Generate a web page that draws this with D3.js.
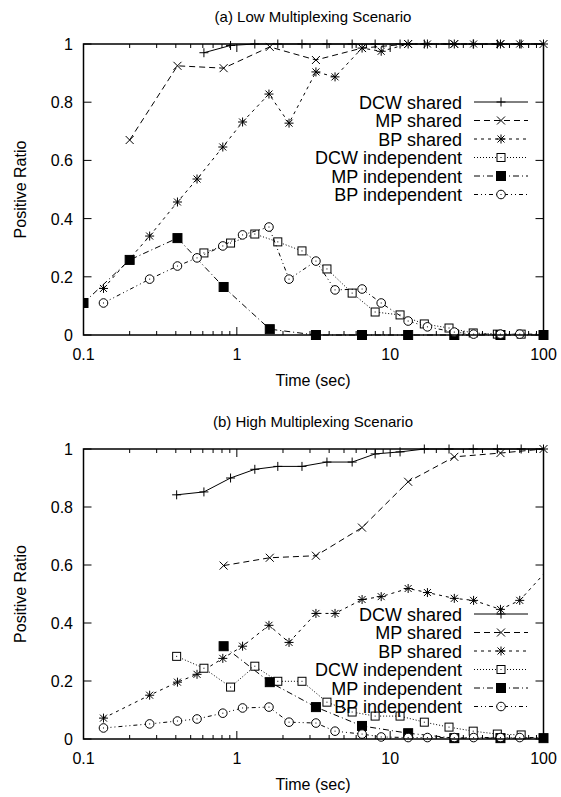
<!DOCTYPE html>
<html>
<head>
<meta charset="utf-8">
<script src="https://cdn.jsdelivr.net/npm/d3@7"></script>
<style>
  body { margin: 0; background: #fff; }
  text { font-family: "Liberation Sans", Arial, sans-serif; fill: #000; }
</style>
</head>
<body>
<script>
// sample times (sec) for each method
const TIME_DCW = [0.405, 0.61, 0.91, 1.31, 1.85, 2.66, 3.87, 5.65, 7.98, 11.6, 16.7, 24.2, 34.8, 50, 71.5, 100];
const TIME_MP = [0.1, 0.2, 0.41, 0.82, 1.64, 3.28, 6.55, 13.1, 26.2, 52.4, 100];
const TIME_BP = [0.135, 0.27, 0.41, 0.55, 0.81, 1.09, 1.62, 2.19, 3.28, 4.37, 6.56, 8.74, 13.1, 17.5, 26.2, 35, 52.4, 70, 105];

// (a) low multiplexing
const lowDcwShared = [null, 0.97, 0.995, 1, 1, 1, 1, 1, 1, 1, 1, 1, 1, 1, 1, 1];
const lowMpShared = [null, 0.67, 0.925, 0.917, 0.99, 0.945, 0.986, 1, 1, 1, 1];
const lowBpShared = [0.16, 0.34, 0.457, 0.536, 0.646, 0.732, 0.828, 0.728, 0.904, 0.887, 0.986, 0.975, 1, 1, 1, 1, 1, 1, 1];
const lowDcwIndep = [null, 0.282, 0.316, 0.347, 0.32, 0.289, 0.227, 0.144, 0.079, 0.069, 0.038, 0.024, 0.007, 0.003, 0.003, null];
const lowMpIndep = [0.11, 0.258, 0.333, 0.165, 0.02, 0, 0, 0, 0, 0, 0];
const lowBpIndep = [0.11, 0.192, 0.237, 0.265, 0.306, 0.344, 0.371, 0.192, 0.254, 0.155, 0.158, 0.11, 0.048, 0.028, 0.01, 0.003, 0.003, 0.003, 0.003];

// (b) high multiplexing
const highDcwShared = [0.842, 0.852, 0.9, 0.93, 0.94, 0.94, 0.955, 0.955, 0.983, 0.99, 1, 1, 1, 1, 1, 1];
const highMpShared = [null, null, null, 0.598, 0.625, 0.632, 0.729, 0.887, 0.973, 0.986, 1];
const highBpShared = [0.072, 0.151, 0.196, 0.223, 0.278, 0.32, 0.392, 0.333, 0.433, 0.433, 0.481, 0.491, 0.519, 0.505, 0.485, 0.478, 0.447, 0.478, 0.58];
const highDcwIndep = [0.285, 0.244, 0.179, 0.251, 0.199, 0.199, 0.127, 0.093, 0.079, 0.079, 0.058, 0.041, 0.027, 0.017, 0.014, null];
const highMpIndep = [null, null, null, 0.32, 0.196, 0.11, 0.045, 0.02, 0.003, 0.003, 0.003];
const highBpIndep = [0.038, 0.052, 0.062, 0.069, 0.089, 0.107, 0.11, 0.058, 0.055, 0.027, 0.017, 0.007, 0.005, 0.005, 0.005, 0.005, 0.005, 0.005, 0.005];

const seriesNames = ["DCW shared", "MP shared", "BP shared", "DCW independent", "MP independent", "BP independent"];
const xTickValues = [0.1, 1, 10, 100];
const yTickValues = [0, 0.2, 0.4, 0.6, 0.8, 1];

const W = 561, H = 797;
const LEFT = 83.5, RIGHT = 543.5;

const svg = d3.select("body").append("svg").attr("width", W).attr("height", H);

const x = d3.scaleLog().domain([0.1, 100]).range([LEFT, RIGHT]);

// gnuplot style line types
const styles = [
  { dash: null, marker: "plus" },
  { dash: "6,4", marker: "cross" },
  { dash: "3,4", marker: "star" },
  { dash: "1,2", marker: "box" },
  { dash: "6,3,1,3", marker: "boxFilled" },
  { dash: "4,3,1,3,1,3", marker: "circle" }
];

const drawMarker = (g, type, cx, cy) => {
  const m = g.append("g").attr("transform", `translate(${cx},${cy})`);
  const s = 4.5;
  if (type === "plus" || type === "star") {
    m.append("path").attr("d", `M${-s},0H${s}M0,${-s}V${s}`);
  }
  if (type === "cross" || type === "star") {
    const c = type === "star" ? 3.5 : 4;
    m.append("path").attr("d", `M${-c},${-c}L${c},${c}M${-c},${c}L${c},${-c}`);
  }
  if (type === "box") {
    m.append("rect").attr("x", -4).attr("y", -4).attr("width", 8).attr("height", 8).attr("fill", "#fff");
    m.append("rect").attr("x", -0.5).attr("y", -0.5).attr("width", 1).attr("height", 1).attr("fill", "#000").attr("stroke", "none");
  }
  if (type === "boxFilled") {
    m.append("rect").attr("x", -4.5).attr("y", -4.5).attr("width", 9).attr("height", 9).attr("fill", "#000");
  }
  if (type === "circle") {
    m.append("circle").attr("r", 4.3).attr("fill", "#fff");
    m.append("rect").attr("x", -0.5).attr("y", -0.5).attr("width", 1).attr("height", 1).attr("fill", "#000").attr("stroke", "none");
  }
  m.selectAll("path, rect, circle").filter(function () { return !this.getAttribute("stroke"); })
    .attr("stroke", "#000").attr("stroke-width", 1).attr("fill", function () { return this.getAttribute("fill") || "none"; });
};

const drawPanel = (cfg, idx) => {
  const y = d3.scaleLinear().domain([0, 1]).range([cfg.bottom, cfg.top]);
  const g = svg.append("g");

  g.append("defs").append("clipPath").attr("id", `clip${idx}`)
    .append("rect")
    .attr("x", LEFT).attr("y", cfg.top - 6)
    .attr("width", RIGHT - LEFT + 6).attr("height", cfg.bottom - cfg.top + 12);
  g.append("defs").append("clipPath").attr("id", `clipLine${idx}`)
    .append("rect")
    .attr("x", LEFT).attr("y", cfg.top - 2)
    .attr("width", RIGHT - LEFT).attr("height", cfg.bottom - cfg.top + 4);

  // ticks on all four sides, pointing inward
  const minor = [];
  [0.1, 1, 10].forEach(d => { for (let k = 2; k <= 9; k++) minor.push(d * k); });
  const tickG = g.append("g").attr("stroke", "#000").attr("stroke-width", 1);
  minor.forEach(v => {
    tickG.append("line").attr("x1", x(v)).attr("x2", x(v)).attr("y1", cfg.bottom).attr("y2", cfg.bottom - 4);
    tickG.append("line").attr("x1", x(v)).attr("x2", x(v)).attr("y1", cfg.top).attr("y2", cfg.top + 4);
  });
  xTickValues.forEach(v => {
    tickG.append("line").attr("x1", x(v)).attr("x2", x(v)).attr("y1", cfg.bottom).attr("y2", cfg.bottom - 8);
    tickG.append("line").attr("x1", x(v)).attr("x2", x(v)).attr("y1", cfg.top).attr("y2", cfg.top + 8);
    g.append("text").attr("x", x(v)).attr("y", cfg.bottom + 25)
      .attr("text-anchor", "middle").attr("font-size", 16).text(v);
  });
  yTickValues.forEach(v => {
    tickG.append("line").attr("x1", LEFT).attr("x2", LEFT + 8).attr("y1", y(v)).attr("y2", y(v));
    tickG.append("line").attr("x1", RIGHT).attr("x2", RIGHT - 8).attr("y1", y(v)).attr("y2", y(v));
    g.append("text").attr("x", 73).attr("y", y(v) + 6)
      .attr("text-anchor", "end").attr("font-size", 16).text(v);
  });

  // data
  const plot = g.append("g");
  cfg.series.forEach((s, i) => {
    const pts = s.time.map((t, j) => [t, s.values[j]]).filter(p => p[1] !== null);
    const line = d3.line().x(p => x(p[0])).y(p => y(p[1]));
    plot.append("path")
      .attr("d", line(pts))
      .attr("clip-path", `url(#clipLine${idx})`)
      .attr("fill", "none").attr("stroke", "#000").attr("stroke-width", 1)
      .attr("stroke-dasharray", styles[i].dash);
    const mg = plot.append("g").attr("clip-path", `url(#clip${idx})`);
    pts.filter(p => p[0] <= 100).forEach(p => drawMarker(mg, styles[i].marker, x(p[0]), y(p[1])));
  });

  // legend
  seriesNames.forEach((name, i) => {
    const ly = cfg.legendTop + i * 18.5;
    g.append("text").attr("x", 462).attr("y", ly + 6.5)
      .attr("text-anchor", "end").attr("font-size", 18).text(name);
    g.append("line").attr("x1", 474).attr("x2", 528).attr("y1", ly).attr("y2", ly)
      .attr("stroke", "#000").attr("stroke-width", 1).attr("stroke-dasharray", styles[i].dash);
    drawMarker(g, styles[i].marker, 501, ly);
  });

  // border
  g.append("rect")
    .attr("x", LEFT).attr("y", cfg.top)
    .attr("width", RIGHT - LEFT).attr("height", cfg.bottom - cfg.top)
    .attr("fill", "none").attr("stroke", "#000").attr("stroke-width", 1.5);

  // labels
  g.append("text").attr("x", 313).attr("y", cfg.top - 22)
    .attr("text-anchor", "middle").attr("font-size", 15).text(cfg.title);
  g.append("text").attr("x", 313).attr("y", cfg.bottom + 51)
    .attr("text-anchor", "middle").attr("font-size", 16).text("Time (sec)");
  g.append("text")
    .attr("transform", `translate(26,${(cfg.top + cfg.bottom) / 2}) rotate(-90)`)
    .attr("text-anchor", "middle").attr("font-size", 16).text("Positive Ratio");
};

const panels = [
  {
    title: "(a) Low Multiplexing Scenario", top: 44, bottom: 335, legendTop: 102,
    series: [
      { time: TIME_DCW, values: lowDcwShared },
      { time: TIME_MP, values: lowMpShared },
      { time: TIME_BP, values: lowBpShared },
      { time: TIME_DCW, values: lowDcwIndep },
      { time: TIME_MP, values: lowMpIndep },
      { time: TIME_BP, values: lowBpIndep }
    ]
  },
  {
    title: "(b) High Multiplexing Scenario", top: 449, bottom: 739, legendTop: 614,
    series: [
      { time: TIME_DCW, values: highDcwShared },
      { time: TIME_MP, values: highMpShared },
      { time: TIME_BP, values: highBpShared },
      { time: TIME_DCW, values: highDcwIndep },
      { time: TIME_MP, values: highMpIndep },
      { time: TIME_BP, values: highBpIndep }
    ]
  }
];

panels.forEach(drawPanel);
</script>
</body>
</html>
